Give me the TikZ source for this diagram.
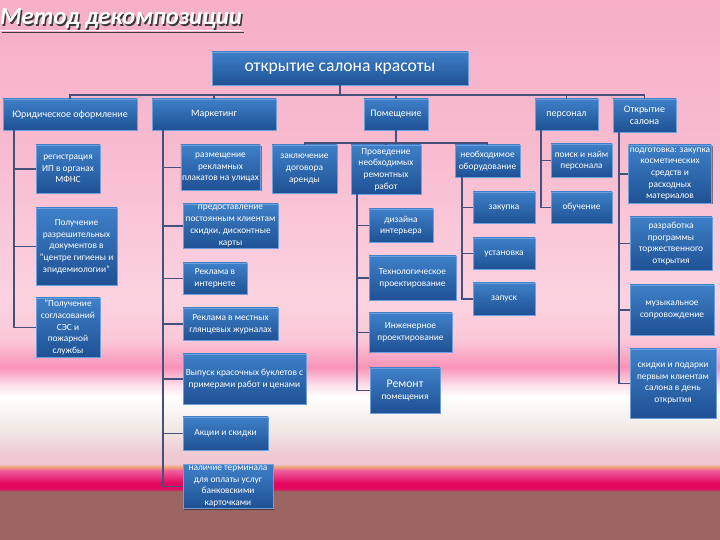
\documentclass[tikz,border=0pt]{standalone}
\usepackage{fontspec}
\setmainfont{Carlito}
\usetikzlibrary{shadows}
\usepackage{xcolor}
\definecolor{cboxtop}{HTML}{3E80C8}
\definecolor{cboxbot}{HTML}{1F5194}
\definecolor{cedge}  {HTML}{6E9FDA}
\definecolor{cline}  {HTML}{46507C}
\definecolor{cshade} {HTML}{3A3A3A}
\definecolor{cbgA}{HTML}{F6AFC6}
\definecolor{cbgB}{HTML}{F8BBD0}
\definecolor{cbgC}{HTML}{FCD3E0}
\definecolor{cbgD}{HTML}{FBC8D8}
\definecolor{cbgE}{HTML}{F993B8}
\definecolor{cbgF}{HTML}{FCE0EA}
\definecolor{cbgG}{HTML}{FFFFFF}
\definecolor{cbgH}{HTML}{F0E8E4}
\definecolor{cbgI}{HTML}{EFC8D2}
\definecolor{cbgJ}{HTML}{F0A070}
\definecolor{cbgK}{HTML}{F060A0}
\definecolor{cbgL}{HTML}{E2085E}
\definecolor{cbgM}{HTML}{9A6562}
% the middle 50bp (25bp..75bp) cover the slide, bottom to top
\pgfdeclareverticalshading{slidebg}{100bp}{%
  color(0bp)=(cbgM); color(25bp)=(cbgM); color(29.5bp)=(cbgM);
  color(29.75bp)=(cbgL); color(30.3bp)=(cbgL); color(31.45bp)=(cbgK);
  color(31.75bp)=(cbgJ); color(32.05bp)=(cbgI); color(32.85bp)=(cbgI);
  color(35.2bp)=(cbgH); color(38.25bp)=(cbgG); color(39.35bp)=(cbgF);
  color(41bp)=(cbgE); color(43.5bp)=(cbgD); color(47.2bp)=(cbgC);
  color(61.1bp)=(cbgB); color(75bp)=(cbgA); color(100bp)=(cbgA)}

\tikzset{
  box/.style = {rectangle, draw=cedge, line width=0.6pt,
                top color=cboxtop, bottom color=cboxbot,
                text=white, align=center, inner sep=1pt,
                font=\fontsize{8}{10}\selectfont,
                drop shadow={shadow xshift=1.2pt, shadow yshift=-1.2pt,
                             fill=black, opacity=0.45}},
  bx/.style 2 args = {box, minimum width=#1*0.03cm, minimum height=#2*0.03cm}
}

\begin{document}
\begin{tikzpicture}[x=0.03cm, y=-0.03cm,
  con/.style  = {draw=cline, line width=1.4pt},
  lvl/.style  = {font=\fontsize{8.5}{10.5}\selectfont},
  ttl/.style  = {font=\fontsize{21}{24}\bfseries\itshape\selectfont,
                 anchor=base west, inner sep=0pt}
]

%% ── Background ────────────────────────────────────────────────────────────
\shade[shading=slidebg] (0,0) rectangle (720,540);
\useasboundingbox (0,0) rectangle (720,540);

%% ── Title ─────────────────────────────────────────────────────────────────
\node[ttl, text=cshade] (titlesh) at (1.5,26.5) {\underline{Метод декомпозиции}};
\node[ttl, text=white]  (title)   at (0,25)     {\underline{Метод декомпозиции}};

%% ── Nodes ─────────────────────────────────────────────────────────────────
\node[bx={256}{33}, font=\fontsize{15}{18}\selectfont] (root) at (340,68.5) {открытие салона красоты};

% level 1
\node[bx={134}{31}, lvl] (jur)  at (70,114.5)    {Юридическое оформление};
\node[bx={124}{31}, lvl] (mark) at (214,114.5)   {Маркетинг};
\node[bx={64}{31},  lvl] (pom)  at (396,114.5)   {Помещение};
\node[bx={63}{31},  lvl] (pers) at (566.5,114.5) {персонал};
\node[bx={63}{33},  lvl] (otkr) at (644.5,115.5) {Открытие\\салона};

% Юридическое оформление
\node[bx={64}{48}] (reg)  at (68,169)    {регистрация\\ИП в органах\\МФНС};
\node[bx={81}{77}] (razr) at (76.5,246.5) {Получение\\разрешительных\\документов в\\"центре гигиены и\\эпидемиологии"};
\node[bx={64}{59}] (sogl) at (68,327.5)  {"Получение\\согласований\\СЭС и\\пожарной\\службы};

% Маркетинг
\node[bx={75}{45}]  (plak) at (220.5,167.5) {размещение\\рекламных\\плакатов на улицах};
\node[bx={95}{44}]  (skid) at (230.5,226)   {предоставление\\постоянным клиентам\\скидки, дисконтные\\карты};
\node[bx={64}{31}]  (inet) at (215,278.5)   {Реклама в\\интернете};
\node[bx={95}{32}]  (jurn) at (230.5,324)   {Реклама в местных\\глянцевых журналах};
\node[bx={123}{50}] (bukl) at (244.5,379)   {Выпуск красочных буклетов с\\примерами работ и ценами};
\node[bx={85}{33}]  (akc)  at (225.5,433.5) {Акции и скидки};
\node[bx={90}{43}]  (term) at (228,486.5)   {наличие терминала\\для оплаты услуг\\банковскими\\карточками};

% Помещение
\node[bx={65}{48}] (arenda) at (304.5,169) {заключение\\договора\\аренды};
\node[bx={70}{49}] (remrab) at (386,169.5) {Проведение\\необходимых\\ремонтных\\работ};
\node[bx={65}{32}] (oborud) at (487.5,161) {необходимое\\оборудование};

\node[bx={64}{33}] (dizain) at (401,225.5)   {дизайна\\интерьера};
\node[bx={87}{44}] (tehn)   at (412.5,278)   {Технологическое\\проектирование};
\node[bx={83}{39}] (inzh)   at (410.5,332.5) {Инженерное\\проектирование};
\node[bx={70}{45}] (remont) at (405,390.5)   {{\fontsize{10}{12}\selectfont Ремонт}\\помещения};

\node[bx={62}{31}] (zakup)  at (504,207.5) {закупка};
\node[bx={62}{31}] (ustan)  at (504,253.5) {установка};
\node[bx={62}{32}] (zapusk) at (504,299)   {запуск};

% персонал
\node[bx={61}{33}] (poisk) at (581.5,160.5) {поиск и найм\\персонала};
\node[bx={61}{31}] (obuch) at (581.5,207.5) {обучение};

% Открытие салона
\node[bx={80}{58}] (podg)   at (670,174)   {подготовка: закупка\\косметических\\средств и\\расходных\\материалов};
\node[bx={82}{53}] (razrab) at (671,243.5) {разработка\\программы\\торжественного\\открытия};
\node[bx={84}{50}] (muz)    at (672,310)   {музыкальное\\сопровождение};
\node[bx={86}{69}] (podar)  at (673,383.5) {скидки и подарки\\первым клиентам\\салона в день\\открытия};

%% ── Connectors ────────────────────────────────────────────────────────────
% root → level 1 (common bus)
\coordinate (bus) at (340,95);
\draw[con] (root.south) -- (bus);
\foreach \c in {jur,mark,pom,pers,otkr}
  \draw[con] (bus) -| (\c.north);

% side trunks
\coordinate (jurT)  at (14,130);
\coordinate (markT) at (163,130);
\coordinate (remT)  at (357,194);
\coordinate (obT)   at (462,177);
\coordinate (persT) at (541,130);
\coordinate (otkrT) at (619,132);

\foreach \c in {reg,razr,sogl}
  \draw[con] (jurT) |- (\c.west);
\foreach \c in {plak,skid,inet,jurn,bukl,akc,term}
  \draw[con] (markT) |- (\c.west);
\foreach \c in {dizain,tehn,inzh,remont}
  \draw[con] (remT) |- (\c.west);
\foreach \c in {zakup,ustan,zapusk}
  \draw[con] (obT) |- (\c.west);
\foreach \c in {poisk,obuch}
  \draw[con] (persT) |- (\c.west);
\foreach \c in {podg,razrab,muz,podar}
  \draw[con] (otkrT) |- (\c.west);

% Помещение → its three blocks
\coordinate (pomB) at (396,143);
\draw[con] (pom.south) -- (pomB);
\foreach \c in {arenda,remrab,oborud}
  \draw[con] (pomB) -| (\c.north);

\end{tikzpicture}
\end{document}
